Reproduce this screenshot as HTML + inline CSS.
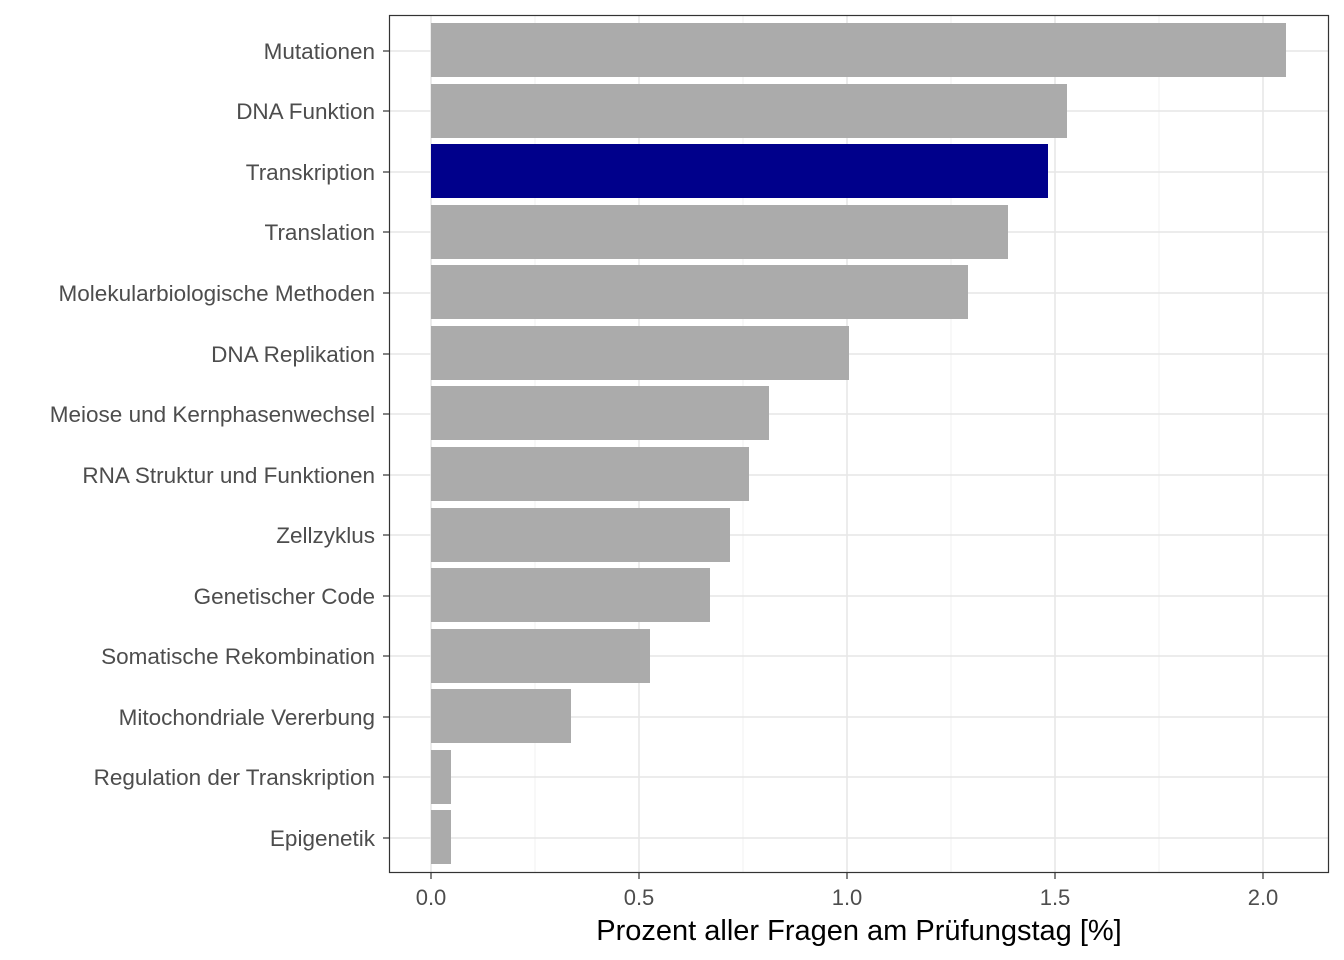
<!DOCTYPE html>
<html><head><meta charset="utf-8"><style>
html,body{margin:0;padding:0;background:#fff}
svg{display:block}
text{font-family:"Liberation Sans",Arial,sans-serif}
</style></head><body>
<svg width="1344" height="960" xmlns="http://www.w3.org/2000/svg">
<rect x="0" y="0" width="1344" height="960" fill="#fff"/>
<g stroke="#f0f0f0" stroke-width="1">
<line x1="535" y1="15" x2="535" y2="873"/><line x1="743" y1="15" x2="743" y2="873"/>
<line x1="951" y1="15" x2="951" y2="873"/><line x1="1159" y1="15" x2="1159" y2="873"/>
</g>
<g stroke="#e6e6e6" stroke-width="1.5">
<line x1="431" y1="15" x2="431" y2="873"/><line x1="639" y1="15" x2="639" y2="873"/>
<line x1="847" y1="15" x2="847" y2="873"/><line x1="1055" y1="15" x2="1055" y2="873"/>
<line x1="1263" y1="15" x2="1263" y2="873"/>
<line x1="389" y1="51" x2="1329" y2="51"/><line x1="389" y1="111" x2="1329" y2="111"/>
<line x1="389" y1="172" x2="1329" y2="172"/><line x1="389" y1="232" x2="1329" y2="232"/>
<line x1="389" y1="293" x2="1329" y2="293"/><line x1="389" y1="354" x2="1329" y2="354"/>
<line x1="389" y1="414" x2="1329" y2="414"/><line x1="389" y1="475" x2="1329" y2="475"/>
<line x1="389" y1="535" x2="1329" y2="535"/><line x1="389" y1="596" x2="1329" y2="596"/>
<line x1="389" y1="656" x2="1329" y2="656"/><line x1="389" y1="717" x2="1329" y2="717"/>
<line x1="389" y1="777" x2="1329" y2="777"/><line x1="389" y1="838" x2="1329" y2="838"/>
</g>
<g fill="#ababab">
<rect x="431" y="23" width="855" height="54"/>
<rect x="431" y="84" width="636" height="54"/>
<rect x="431" y="144" width="617" height="54" fill="#00008b"/>
<rect x="431" y="205" width="577" height="54"/>
<rect x="431" y="265" width="537" height="54"/>
<rect x="431" y="326" width="418" height="54"/>
<rect x="431" y="386" width="338" height="54"/>
<rect x="431" y="447" width="318" height="54"/>
<rect x="431" y="508" width="299" height="54"/>
<rect x="431" y="568" width="279" height="54"/>
<rect x="431" y="629" width="219" height="54"/>
<rect x="431" y="689" width="140" height="54"/>
<rect x="431" y="750" width="20" height="54"/>
<rect x="431" y="810" width="20" height="54"/>
</g>
<rect x="389.5" y="15.5" width="939" height="857" fill="none" stroke="#333" stroke-width="1.2"/>
<g stroke="#333" stroke-width="1.2">
<line x1="383" y1="51" x2="389" y2="51"/><line x1="383" y1="111" x2="389" y2="111"/>
<line x1="383" y1="172" x2="389" y2="172"/><line x1="383" y1="232" x2="389" y2="232"/>
<line x1="383" y1="293" x2="389" y2="293"/><line x1="383" y1="354" x2="389" y2="354"/>
<line x1="383" y1="414" x2="389" y2="414"/><line x1="383" y1="475" x2="389" y2="475"/>
<line x1="383" y1="535" x2="389" y2="535"/><line x1="383" y1="596" x2="389" y2="596"/>
<line x1="383" y1="656" x2="389" y2="656"/><line x1="383" y1="717" x2="389" y2="717"/>
<line x1="383" y1="777" x2="389" y2="777"/><line x1="383" y1="838" x2="389" y2="838"/>
<line x1="431" y1="873" x2="431" y2="879"/><line x1="639" y1="873" x2="639" y2="879"/>
<line x1="847" y1="873" x2="847" y2="879"/><line x1="1055" y1="873" x2="1055" y2="879"/>
<line x1="1263" y1="873" x2="1263" y2="879"/>
</g>
<g fill="#4d4d4d" font-size="22.5" text-anchor="end">
<text x="375" y="59">Mutationen</text>
<text x="375" y="119">DNA Funktion</text>
<text x="375" y="180">Transkription</text>
<text x="375" y="240">Translation</text>
<text x="375" y="301">Molekularbiologische Methoden</text>
<text x="375" y="362">DNA Replikation</text>
<text x="375" y="422">Meiose und Kernphasenwechsel</text>
<text x="375" y="483">RNA Struktur und Funktionen</text>
<text x="375" y="543">Zellzyklus</text>
<text x="375" y="604">Genetischer Code</text>
<text x="375" y="664">Somatische Rekombination</text>
<text x="375" y="725">Mitochondriale Vererbung</text>
<text x="375" y="785">Regulation der Transkription</text>
<text x="375" y="846">Epigenetik</text>
</g>
<g fill="#4d4d4d" font-size="22" text-anchor="middle">
<text x="431" y="905">0.0</text><text x="639" y="905">0.5</text>
<text x="847" y="905">1.0</text><text x="1055" y="905">1.5</text>
<text x="1263" y="905">2.0</text>
</g>
<text x="859" y="940" font-size="29" text-anchor="middle" fill="#000">Prozent aller Fragen am Prüfungstag [%]</text>
</svg>
</body></html>
